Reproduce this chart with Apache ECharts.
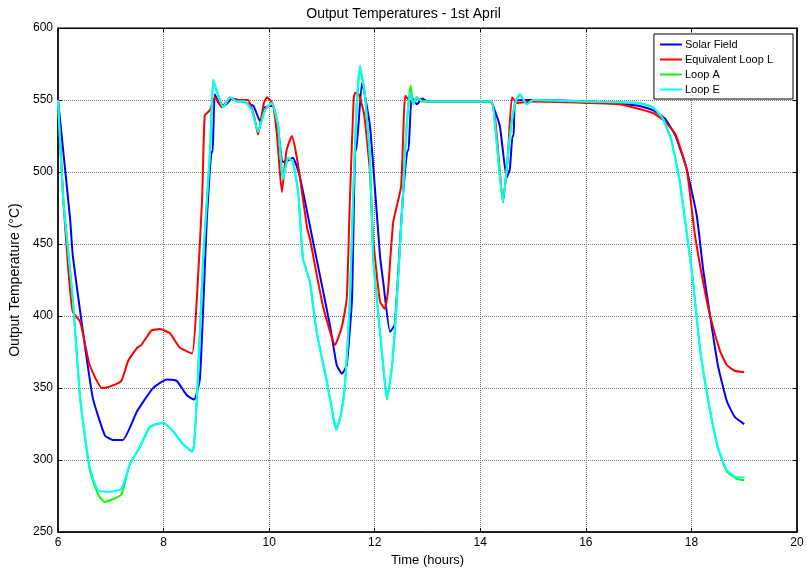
<!DOCTYPE html>
<html>
<head>
<meta charset="utf-8">
<script src="https://cdn.jsdelivr.net/npm/echarts@6/dist/echarts.min.js"></script>
<style>
  html, body { margin: 0; padding: 0; background: #fff; }
</style>
</head>
<body>
<div id="myChart" style="width: 807px; height: 572px;"></div>
<script>
// Solar Field (blue)
var solarT = [6.0, 6.04, 6.23, 6.28, 6.45, 6.66, 6.89, 7.04, 7.23, 7.5, 7.8, 8.06, 8.25, 8.44, 8.58, 8.69, 8.82, 8.91, 8.93, 8.97,
  9.05, 9.15, 9.3, 9.5, 9.7, 9.83, 9.92, 10.07, 10.15, 10.26, 10.35, 10.45, 10.58, 10.83, 11.15, 11.28, 11.38, 11.47, 11.57, 11.63,
  11.65, 11.76, 11.91, 12.1, 12.16, 12.29, 12.38, 12.53, 12.62, 12.64, 12.7, 12.8, 12.9, 13.0, 14.0, 14.15, 14.22, 14.37, 14.5, 14.56,
  14.61, 14.63, 14.66, 14.8, 15.0, 16.0, 16.5, 17.0, 17.27, 17.5, 17.7, 17.91, 18.1, 18.22, 18.35, 18.5, 18.67, 18.82, 19.0];
var solarV = [550, 536, 467, 442, 395, 343, 317, 314, 314, 334, 350, 356, 355, 345, 342, 357, 467, 514, 514, 554,
  548, 546, 551, 549, 546, 535, 545, 546, 535, 507, 508, 510, 497, 452, 394, 366, 360, 366, 412, 515,
  515, 562, 532, 442, 424, 389, 394, 481, 515, 515, 552, 547, 551, 549, 549, 549, 548, 532, 496, 502,
  525, 525, 549, 550, 550, 549, 548, 546, 543, 537, 525, 502, 470, 433, 401, 366, 341, 330, 325];

// Equivalent Loop L (red)
var loopLT = [6.0, 6.1, 6.2, 6.28, 6.42, 6.6, 6.83, 6.98, 7.2, 7.33, 7.5, 7.58, 7.77, 7.93, 8.12, 8.31, 8.54, 8.63, 8.73, 8.78,
  8.88, 8.97, 9.1, 9.25, 9.4, 9.6, 9.72, 9.79, 9.9, 9.96, 10.07, 10.15, 10.24, 10.33, 10.43, 10.5, 10.58, 10.72, 10.77, 11.02,
  11.25, 11.38, 11.47, 11.53, 11.6, 11.63, 11.7, 11.8, 11.91, 11.97, 12.1, 12.19, 12.25, 12.35, 12.5, 12.58, 12.7, 12.8, 13.0, 14.2,
  14.3, 14.43, 14.52, 14.6, 14.7, 15.0, 16.0, 16.64, 17.27, 17.5, 17.7, 17.91, 18.06, 18.22, 18.35, 18.54, 18.67, 18.82, 19.0];
var loopLV = [550, 481, 430, 403, 396, 366, 350, 351, 355, 369, 378, 380, 390, 391, 388, 378, 374, 412, 481, 539,
  543, 552, 545, 551, 550, 550, 538, 526, 548, 552, 547, 525, 486, 515, 525, 515, 497, 461, 454, 407,
  380, 393, 412, 481, 550, 555, 554, 540, 500, 454, 410, 405, 417, 465, 490, 553, 548, 551, 549, 549,
  530, 479, 510, 552, 548, 549, 548, 547, 541, 535, 526, 502, 458, 424, 401, 376, 366, 362, 361];

// Loop A (green)
var loopAT = [6.0, 6.1, 6.28, 6.42, 6.6, 6.76, 6.88, 7.05, 7.2, 7.36, 7.55, 7.74, 7.99, 8.18, 8.37, 8.54, 8.58, 8.65, 8.75, 8.88,
  8.94, 9.0, 9.13, 9.26, 9.39, 9.54, 9.67, 9.79, 9.92, 10.05, 10.17, 10.26, 10.36, 10.45, 10.55, 10.64, 10.77, 10.9, 11.09, 11.21,
  11.27, 11.35, 11.43, 11.53, 11.59, 11.65, 11.72, 11.81, 11.91, 11.97, 12.04, 12.16, 12.23, 12.33, 12.42, 12.53, 12.6, 12.68, 12.73, 12.8,
  12.9, 13.0, 14.2, 14.28, 14.43, 14.56, 14.66, 14.75, 14.88, 15.0, 16.0, 17.0, 17.27, 17.46, 17.62, 17.78, 17.91, 18.03, 18.16,
  18.31, 18.5, 18.67, 18.86, 19.0];
var loopAV = [550, 481, 412, 343, 293, 276, 271, 273, 276, 297, 309, 323, 326, 320, 311, 306, 311, 357, 440, 514,
  564, 557, 545, 552, 549, 549, 543, 528, 543, 548, 532, 495, 510, 507, 486, 440, 424, 389, 355, 331,
  321, 330, 350, 412, 481, 540, 572, 555, 509, 440, 412, 366, 342, 366, 412, 481, 530, 560, 548, 552,
  549, 549, 549, 532, 479, 525, 548, 554, 547, 550, 549, 548, 545, 537, 522, 493, 458, 424, 378,
  343, 309, 292, 287, 286];

// Loop E (cyan)
var loopET = [6.0, 6.1, 6.28, 6.42, 6.6, 6.76, 6.98, 7.2, 7.36, 7.55, 7.74, 7.99, 8.18, 8.37, 8.54, 8.58, 8.65, 8.75, 8.88, 8.94,
  9.0, 9.13, 9.26, 9.39, 9.54, 9.67, 9.79, 9.92, 10.05, 10.17, 10.26, 10.36, 10.45, 10.55, 10.64, 10.77, 10.9, 11.09, 11.21, 11.27,
  11.35, 11.43, 11.53, 11.59, 11.65, 11.72, 11.81, 11.91, 11.97, 12.04, 12.16, 12.23, 12.33, 12.42, 12.53, 12.6, 12.67, 12.73, 12.8, 12.9,
  13.0, 14.2, 14.28, 14.43, 14.56, 14.66, 14.75, 14.88, 15.0, 16.0, 17.0, 17.27, 17.46, 17.62, 17.78, 17.91, 18.03, 18.16, 18.31,
  18.5, 18.67, 18.86, 19.0];
var loopEV = [550, 481, 412, 343, 295, 279, 278, 280, 297, 309, 323, 326, 320, 311, 306, 311, 357, 440, 514, 564,
  557, 545, 552, 549, 549, 543, 528, 543, 548, 532, 495, 510, 507, 486, 440, 424, 389, 355, 331, 321,
  330, 350, 412, 481, 540, 574, 555, 509, 440, 412, 366, 343, 366, 412, 481, 530, 555, 547, 552, 549,
  549, 549, 532, 479, 525, 548, 554, 547, 550, 549, 548, 545, 537, 522, 493, 458, 424, 378, 343,
  309, 293, 288, 288];

var xTicks = [6, 8, 10, 12, 14, 16, 18, 20];
var yTicks = [250, 300, 350, 400, 450, 500, 550, 600];

function zip(t, v) {
  var out = [];
  for (var i = 0; i < t.length; i++) {
    out.push([t[i], v[i]]);
  }
  return out;
}

var font = 'Liberation Sans, Arial, sans-serif';

function line(name, color, t, v) {
  return {
    name: name,
    type: 'line',
    data: zip(t, v),
    showSymbol: false,
    smooth: 0.15,
    lineStyle: { color: color, width: 2 },
    itemStyle: { color: color },
    emphasis: { disabled: true }
  };
}

var option = {
  animation: false,
  backgroundColor: '#fff',
  title: {
    text: 'Output Temperatures - 1st April',
    left: 'center',
    top: 2,
    textStyle: { fontFamily: font, fontSize: 14, fontWeight: 'normal', color: '#000' }
  },
  legend: {
    orient: 'vertical',
    right: 14,
    top: 34,
    itemWidth: 22,
    itemHeight: 2,
    itemGap: 4,
    padding: [5, 20, 4, 6],
    backgroundColor: '#fff',
    borderColor: '#000',
    borderWidth: 1,
    borderRadius: 0,
    icon: 'rect',
    textStyle: { fontFamily: font, fontSize: 11, color: '#000', padding: [0, 0, 0, -2] },
    data: ['Solar Field', 'Equivalent Loop L', 'Loop A', 'Loop E']
  },
  grid: {
    left: 58,
    right: 10,
    top: 28,
    bottom: 37,
    show: true,
    borderColor: '#000',
    borderWidth: 1
  },
  xAxis: [{
    type: 'value',
    min: xTicks[0],
    max: xTicks[xTicks.length - 1],
    interval: 2,
    name: 'Time (hours)',
    nameLocation: 'middle',
    nameGap: 18,
    nameTextStyle: { fontFamily: font, fontSize: 13, color: '#000' },
    axisLine: { show: true, lineStyle: { color: '#000', width: 1.5 } },
    axisTick: { show: true, inside: true, length: 4, lineStyle: { color: '#000' } },
    axisLabel: { fontFamily: font, fontSize: 12, color: '#000', margin: 5 },
    splitLine: { show: true, lineStyle: { color: '#777', type: 'dotted', width: 1 } }
  }, {
    type: 'value',
    position: 'top',
    min: xTicks[0],
    max: xTicks[xTicks.length - 1],
    interval: 2,
    axisLine: { show: true, lineStyle: { color: '#000' } },
    axisTick: { show: true, inside: true, length: 4, lineStyle: { color: '#000' } },
    axisLabel: { show: false },
    splitLine: { show: false }
  }],
  yAxis: [{
    type: 'value',
    min: yTicks[0],
    max: yTicks[yTicks.length - 1],
    interval: 50,
    name: 'Output Temperature (°C)',
    nameLocation: 'middle',
    nameGap: 36,
    nameTextStyle: { fontFamily: font, fontSize: 14, color: '#000' },
    axisLine: { show: true, lineStyle: { color: '#000', width: 1.5 } },
    axisTick: { show: true, inside: true, length: 4, lineStyle: { color: '#000' } },
    axisLabel: { fontFamily: font, fontSize: 12, color: '#000', margin: 5 },
    splitLine: { show: true, lineStyle: { color: '#777', type: 'dotted', width: 1 } }
  }, {
    type: 'value',
    position: 'right',
    min: yTicks[0],
    max: yTicks[yTicks.length - 1],
    interval: 50,
    axisLine: { show: true, lineStyle: { color: '#000', width: 1.5 } },
    axisTick: { show: true, inside: true, length: 4, lineStyle: { color: '#000' } },
    axisLabel: { show: false },
    splitLine: { show: false }
  }],
  series: [
    line('Solar Field', '#0000ff', solarT, solarV),
    line('Equivalent Loop L', '#ff0000', loopLT, loopLV),
    line('Loop A', '#00ff00', loopAT, loopAV),
    line('Loop E', '#00ffff', loopET, loopEV)
  ]
};

var myChart = echarts.init(document.getElementById('myChart'));
myChart.setOption(option);
</script>
</body>
</html>
